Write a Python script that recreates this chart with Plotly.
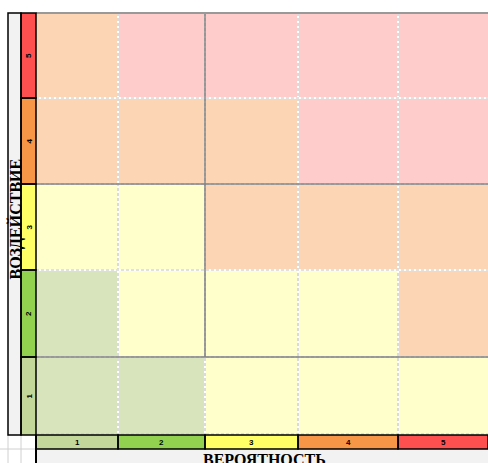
import plotly.graph_objects as go

# ---------------- data ----------------
LIKELIHOOD_LABELS = ["1", "2", "3", "4", "5"]
IMPACT_LABELS = ["1", "2", "3", "4", "5"]
LEVELS = [1, 2, 3, 4, 5]
# risk zone per cell: rows = impact 1..5, cols = likelihood 1..5
# 0 = low, 1 = moderate, 2 = high, 3 = critical
RISK_ZONE = [
    [0, 0, 1, 1, 1],
    [0, 1, 1, 1, 2],
    [1, 1, 2, 2, 2],
    [2, 2, 2, 3, 3],
    [2, 3, 3, 3, 3],
]
X_TITLE = "ВЕРОЯТНОСТЬ"
Y_TITLE = "ВОЗДЕЙСТВИЕ"

# ---------------- styles / layout ----------------
ZONE_COLORS = ["#d8e4bc", "#ffffcc", "#fcd5b4", "#ffcccc"]
LEVEL_COLORS = ["#c4d79b", "#92d050", "#ffff66", "#f79646", "#ff5050"]
COL_EDGES = [36, 118, 205, 298, 398, 488]   # spreadsheet column widths (px)
ROW_EDGES = [13, 98, 184, 270, 357, 435]    # top -> bottom (impact 5 .. 1)
W, H = 488, 463


def discrete_scale(colors):
    n = len(colors)
    sc = []
    for i, c in enumerate(colors):
        sc.append([i / n, c])
        sc.append([(i + 1) / n, c])
    return sc


fig = go.Figure()

# main risk matrix
fig.add_trace(go.Heatmap(
    x=COL_EDGES, y=ROW_EDGES, z=RISK_ZONE[::-1],
    zmin=-0.5, zmax=len(ZONE_COLORS) - 0.5,
    colorscale=discrete_scale(ZONE_COLORS), showscale=False, hoverinfo="skip",
))
# left impact scale cells
fig.add_trace(go.Heatmap(
    x=[21, 36], y=ROW_EDGES, z=[[v] for v in LEVELS[::-1]],
    zmin=0.5, zmax=5.5, colorscale=discrete_scale(LEVEL_COLORS),
    showscale=False, hoverinfo="skip",
))
# bottom likelihood scale cells
fig.add_trace(go.Heatmap(
    x=COL_EDGES, y=[435, 449], z=[LEVELS],
    zmin=0.5, zmax=5.5, colorscale=discrete_scale(LEVEL_COLORS),
    showscale=False, hoverinfo="skip",
))

shapes = []
# backgrounds
shapes.append(dict(type="rect", x0=8, x1=21, y0=13, y1=435, fillcolor="#f2f2f2",
                   line=dict(width=0), layer="below"))
shapes.append(dict(type="rect", x0=36, x1=W + 2, y0=449, y1=H + 2, fillcolor="#f2f2f2",
                   line=dict(width=0), layer="below"))
# corner light grid
for xv in (8, 21):
    shapes.append(dict(type="line", x0=xv, x1=xv, y0=435, y1=H, line=dict(color="#d0d0d0", width=1)))
shapes.append(dict(type="line", x0=0, x1=36, y0=449, y1=449, line=dict(color="#d0d0d0", width=1)))

# dashed interior grid
for xv in COL_EDGES[1:-1]:
    shapes.append(dict(type="line", x0=xv, x1=xv, y0=ROW_EDGES[0], y1=ROW_EDGES[-1],
                       line=dict(color="white", width=2)))
    shapes.append(dict(type="line", x0=xv, x1=xv, y0=ROW_EDGES[0], y1=ROW_EDGES[-1],
                       line=dict(color="#c4c4c4", width=1.2, dash="3px,2px")))
for yv in ROW_EDGES[1:-1]:
    shapes.append(dict(type="line", x0=COL_EDGES[0], x1=W, y0=yv, y1=yv,
                       line=dict(color="white", width=2)))
    shapes.append(dict(type="line", x0=COL_EDGES[0], x1=W, y0=yv, y1=yv,
                       line=dict(color="#c4c4c4", width=1.2, dash="3px,2px")))
# bottom dashed line above scale row
shapes.append(dict(type="line", x0=COL_EDGES[0], x1=W, y0=ROW_EDGES[-1] - 1, y1=ROW_EDGES[-1] - 1,
                   line=dict(color="#c4c4c4", width=1, dash="3px,2px")))

# solid zone borders
SOLID = "#7f7f7f"
shapes.append(dict(type="line", x0=COL_EDGES[2], x1=COL_EDGES[2], y0=ROW_EDGES[0], y1=ROW_EDGES[4],
                   line=dict(color=SOLID, width=1.5)))
for yv in (ROW_EDGES[2], ROW_EDGES[4]):
    shapes.append(dict(type="line", x0=COL_EDGES[0], x1=W, y0=yv, y1=yv,
                       line=dict(color=SOLID, width=1.5)))
# top border
shapes.append(dict(type="line", x0=COL_EDGES[0], x1=W, y0=ROW_EDGES[0], y1=ROW_EDGES[0],
                   line=dict(color="#999999", width=2)))

# black borders of scale cells
BL = dict(color="black", width=1.5)
shapes.append(dict(type="rect", x0=8, x1=21, y0=13, y1=435, line=BL))
for i in range(len(ROW_EDGES) - 1):
    shapes.append(dict(type="rect", x0=21, x1=36, y0=ROW_EDGES[i], y1=ROW_EDGES[i + 1], line=BL))
for i in range(len(COL_EDGES) - 1):
    shapes.append(dict(type="rect", x0=COL_EDGES[i], x1=COL_EDGES[i + 1], y0=435, y1=449, line=BL))
shapes.append(dict(type="line", x0=36, x1=36, y0=435, y1=H + 2, line=dict(color="black", width=2)))

annotations = []
tick_font = dict(family="Arial Black, Liberation Sans, Arial", size=8, color="black")
for i, lab in enumerate(LIKELIHOOD_LABELS):
    annotations.append(dict(x=(COL_EDGES[i] + COL_EDGES[i + 1]) / 2, y=442, text="<b>%s</b>" % lab,
                            showarrow=False, font=tick_font, xref="x", yref="y"))
for i, lab in enumerate(IMPACT_LABELS[::-1]):
    annotations.append(dict(x=28.5, y=(ROW_EDGES[i] + ROW_EDGES[i + 1]) / 2, text="<b>%s</b>" % lab,
                            showarrow=False, font=tick_font, textangle=-90, xref="x", yref="y"))
title_font = dict(family="Liberation Serif, Times New Roman, serif", size=16, color="black")
annotations.append(dict(x=14.5, y=(ROW_EDGES[0] + ROW_EDGES[-1]) / 2 - 5, text="<b>%s</b>" % Y_TITLE,
                        showarrow=False, font=title_font, textangle=-90, xref="x", yref="y"))
annotations.append(dict(x=(COL_EDGES[0] + COL_EDGES[-1]) / 2 + 2, y=459, text="<b>%s</b>" % X_TITLE,
                        showarrow=False, font=title_font, xref="x", yref="y"))

fig.update_layout(
    width=W, height=H, margin=dict(l=0, r=0, t=0, b=0),
    paper_bgcolor="white", plot_bgcolor="white",
    xaxis=dict(range=[0, W], visible=False, fixedrange=True),
    yaxis=dict(range=[H, 0], visible=False, fixedrange=True),
    shapes=shapes, annotations=annotations, showlegend=False,
)
fig.write_html(
    "out.html",
    config={"displayModeBar": False},
    post_script="document.body.style.margin='0';document.body.style.overflow='hidden';",
)
